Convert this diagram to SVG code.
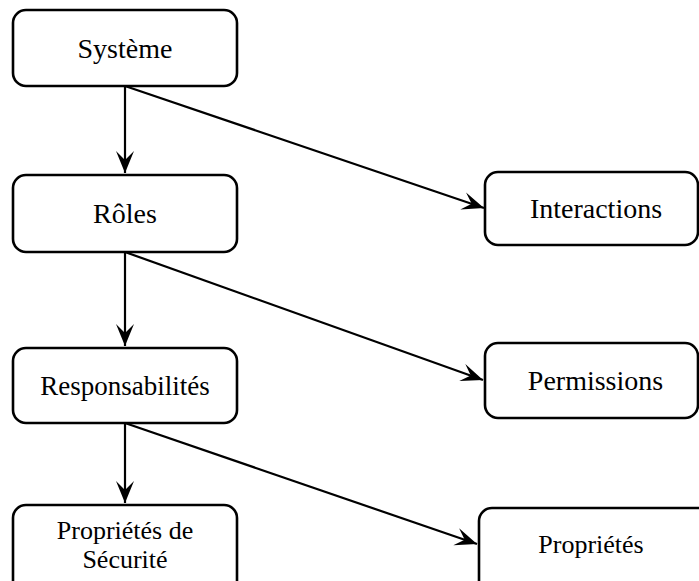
<svg xmlns="http://www.w3.org/2000/svg" width="699" height="581" viewBox="0 0 699 581">
<defs>
<style>
.box{fill:#fff;stroke:#000;stroke-width:2.6}
.lbl{font-family:"Liberation Serif","Times New Roman",serif;fill:#000;text-anchor:middle}
.edge{fill:none;stroke:#000;stroke-width:2.2}
</style>
<marker id="arr" markerUnits="userSpaceOnUse" markerWidth="26" markerHeight="22" viewBox="-23 -11 26 22" refX="0" refY="0" orient="auto">
<path d="M0,0 L-22,-9 L-13,0 L-22,9 Z" fill="#000"/>
</marker>
</defs>
<rect width="699" height="581" fill="#fff"/>
<g id="connectors">
<line class="edge" x1="125" y1="86" x2="125" y2="173" marker-end="url(#arr)"/>
<line class="edge" x1="125" y1="86" x2="484" y2="208" marker-end="url(#arr)"/>
<line class="edge" x1="125" y1="252" x2="125" y2="346" marker-end="url(#arr)"/>
<line class="edge" x1="125" y1="252" x2="483" y2="380" marker-end="url(#arr)"/>
<line class="edge" x1="125" y1="423" x2="125" y2="503" marker-end="url(#arr)"/>
<line class="edge" x1="125" y1="423" x2="477" y2="544" marker-end="url(#arr)"/>
</g>
<g id="systeme">
<rect class="box" x="13" y="10" width="224" height="76" rx="13"/>
<text class="lbl" x="125" y="58" font-size="28">Système</text>
</g>
<g id="roles">
<rect class="box" x="13" y="175" width="224" height="77" rx="13"/>
<text class="lbl" x="125" y="223" font-size="28">Rôles</text>
</g>
<g id="responsabilites">
<rect class="box" x="13" y="348" width="224" height="75" rx="13"/>
<text class="lbl" x="125" y="395" font-size="27">Responsabilités</text>
</g>
<g id="proprietes-securite">
<rect class="box" x="13" y="505" width="224" height="90" rx="13"/>
<text class="lbl" x="125" y="539" font-size="26">Propriétés de</text>
<text class="lbl" x="125" y="568" font-size="26">Sécurité</text>
</g>
<g id="interactions">
<rect class="box" x="485" y="172" width="213" height="73" rx="13"/>
<text class="lbl" x="596" y="218" font-size="28">Interactions</text>
</g>
<g id="permissions">
<rect class="box" x="485" y="343" width="213" height="75" rx="13"/>
<text class="lbl" x="595.5" y="390" font-size="28">Permissions</text>
</g>
<g id="proprietes">
<rect class="box" x="479" y="508" width="240" height="90" rx="13"/>
<text class="lbl" x="591" y="553" font-size="26">Propriétés</text>
</g>
</svg>
